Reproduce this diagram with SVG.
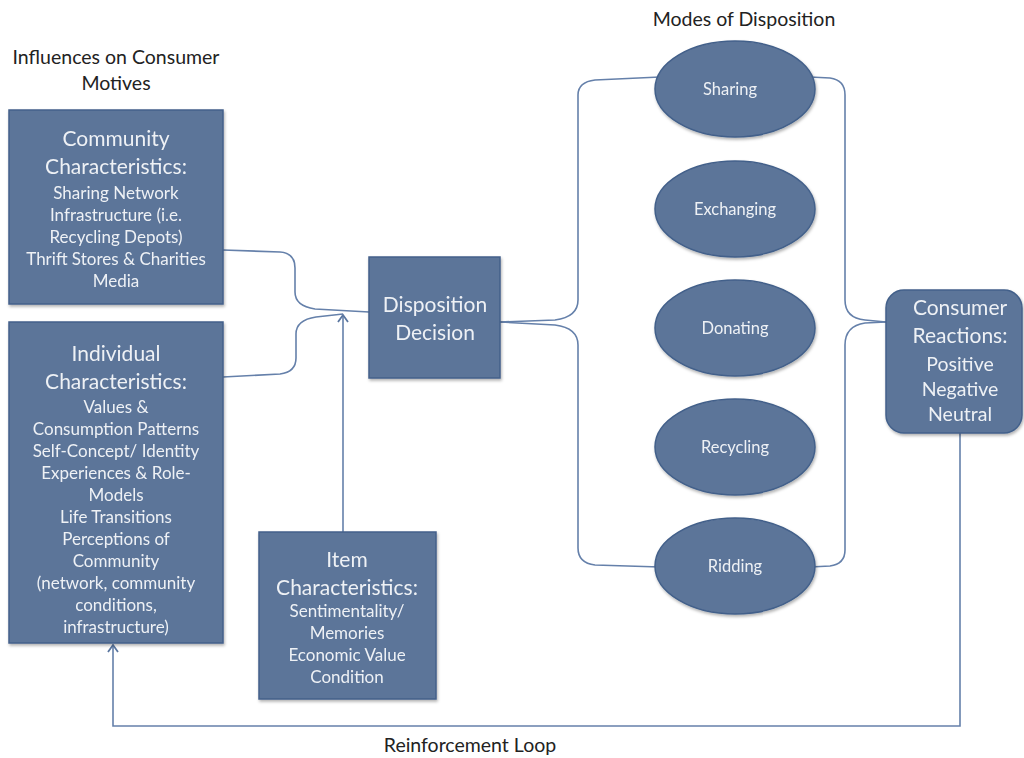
<svg xmlns="http://www.w3.org/2000/svg" width="1024" height="758" viewBox="0 0 1024 758">
  <style>
    .box { fill: #5b7499; stroke: #43608a; stroke-width: 1.5; }
    .t { font-family: Lato, "Open Sans", sans-serif; fill: #eef1f5; text-anchor: middle; }
    .h { font-size: 21px; }
    .b { font-size: 17px; }
    .e { font-size: 16.5px; }
    .r { font-size: 19.5px; }
    .lbl { font-family: Lato, "Open Sans", sans-serif; fill: #222; text-anchor: middle; font-size: 19.5px; }
    .wire { fill: none; stroke: #6580aa; stroke-width: 1.6; }
  </style>
  <defs>
    <!-- open chevron arrowhead, tip on the path end -->
    <marker id="arrow" markerWidth="12" markerHeight="12" refX="8" refY="6" orient="auto" markerUnits="userSpaceOnUse" viewBox="0 0 12 12">
      <path d="M1,1 L8,6 L1,11" fill="none" stroke="#5a76a0" stroke-width="1.8"/>
    </marker>
    <filter id="shadow" x="-10%" y="-10%" width="130%" height="130%">
      <feDropShadow dx="1" dy="2" stdDeviation="1.5" flood-color="#000" flood-opacity="0.3"/>
    </filter>
  </defs>

  <rect width="1024" height="758" fill="#ffffff"/>

  <!-- section labels -->
  <text class="lbl" x="116" y="64">Influences on Consumer</text>
  <text class="lbl" x="116" y="90">Motives</text>
  <text class="lbl" x="744" y="26">Modes of Disposition</text>
  <text class="lbl" x="470" y="752">Reinforcement Loop</text>

  <!-- connectors -->
  <g id="connectors">
    <!-- left brace into decision -->
    <path class="wire" d="M223,250 L280,252 Q295,253 295,268 L295,292 Q295,306 315,309 L369,312"/>
    <path class="wire" d="M223,377 L280,374 Q296,372 296,358 L296,334 Q296,320 316,317 L343,314"/>
    <path class="wire" d="M343,532 L343,315" marker-end="url(#arrow)"/>
    <!-- right brace to modes -->
    <path class="wire" d="M500,322 L555,320 Q578,317 578,300 L578,95 Q578,82 595,80 L660,77"/>
    <path class="wire" d="M500,322 L555,325 Q578,328 578,345 L578,548 Q578,563 595,565 L660,567"/>
    <!-- brace from modes to reactions -->
    <path class="wire" d="M810,77 L830,78 Q845,80 845,95 L845,300 Q845,318 865,320 L886,322"/>
    <path class="wire" d="M810,567 L830,566 Q845,564 845,550 L845,345 Q845,326 865,323 L886,322"/>
    <!-- reinforcement loop -->
    <path class="wire" d="M960,433 L960,726 L113,726 L113,645" marker-end="url(#arrow)"/>
  </g>

  <!-- community characteristics -->
  <g id="community" filter="url(#shadow)">
    <rect class="box" x="9" y="110" width="214" height="194"/>
    <text class="t h" x="116" y="146">Community</text>
    <text class="t h" x="116" y="174">Characteristics:</text>
    <text class="t b" x="116" y="199">Sharing Network</text>
    <text class="t b" x="116" y="221">Infrastructure (i.e.</text>
    <text class="t b" x="116" y="243">Recycling Depots)</text>
    <text class="t b" x="116" y="265">Thrift Stores &amp; Charities</text>
    <text class="t b" x="116" y="287">Media</text>
  </g>

  <!-- individual characteristics -->
  <g id="individual" filter="url(#shadow)">
    <rect class="box" x="9" y="322" width="214" height="321"/>
    <text class="t h" x="116" y="361">Individual</text>
    <text class="t h" x="116" y="389">Characteristics:</text>
    <text class="t b" x="116" y="413">Values &amp;</text>
    <text class="t b" x="116" y="435">Consumption Patterns</text>
    <text class="t b" x="116" y="457">Self-Concept/ Identity</text>
    <text class="t b" x="116" y="479">Experiences &amp; Role-</text>
    <text class="t b" x="116" y="501">Models</text>
    <text class="t b" x="116" y="523">Life Transitions</text>
    <text class="t b" x="116" y="545">Perceptions of</text>
    <text class="t b" x="116" y="567">Community</text>
    <text class="t b" x="116" y="589">(network, community</text>
    <text class="t b" x="116" y="611">conditions,</text>
    <text class="t b" x="116" y="633">infrastructure)</text>
  </g>

  <!-- item characteristics -->
  <g id="item" filter="url(#shadow)">
    <rect class="box" x="259" y="532" width="177" height="167"/>
    <text class="t h" x="347" y="567">Item</text>
    <text class="t h" x="347" y="595">Characteristics:</text>
    <text class="t b" x="347" y="617">Sentimentality/</text>
    <text class="t b" x="347" y="639">Memories</text>
    <text class="t b" x="347" y="661">Economic Value</text>
    <text class="t b" x="347" y="683">Condition</text>
  </g>

  <!-- disposition decision -->
  <g id="decision" filter="url(#shadow)">
    <rect class="box" x="369" y="257" width="131" height="121"/>
    <text class="t h" x="435" y="312">Disposition</text>
    <text class="t h" x="435" y="340">Decision</text>
  </g>

  <!-- modes of disposition -->
  <g id="sharing" filter="url(#shadow)">
    <ellipse class="box" cx="735" cy="89" rx="80" ry="48"/>
    <text class="t e" x="730" y="95">Sharing</text>
  </g>
  <g id="exchanging" filter="url(#shadow)">
    <ellipse class="box" cx="735" cy="209" rx="80" ry="48"/>
    <text class="t e" x="735" y="215">Exchanging</text>
  </g>
  <g id="donating" filter="url(#shadow)">
    <ellipse class="box" cx="735" cy="328" rx="80" ry="48"/>
    <text class="t e" x="735" y="334">Donating</text>
  </g>
  <g id="recycling" filter="url(#shadow)">
    <ellipse class="box" cx="735" cy="447" rx="80" ry="48"/>
    <text class="t e" x="735" y="453">Recycling</text>
  </g>
  <g id="ridding" filter="url(#shadow)">
    <ellipse class="box" cx="735" cy="566" rx="80" ry="48"/>
    <text class="t e" x="735" y="572">Ridding</text>
  </g>

  <!-- consumer reactions -->
  <g id="reactions" filter="url(#shadow)">
    <rect class="box" x="886" y="290" width="136" height="143" rx="18" ry="18"/>
    <text class="t h" x="960" y="315">Consumer</text>
    <text class="t h" x="960" y="343">Reactions:</text>
    <text class="t r" x="960" y="371">Positive</text>
    <text class="t r" x="960" y="396">Negative</text>
    <text class="t r" x="960" y="421">Neutral</text>
  </g>
</svg>
